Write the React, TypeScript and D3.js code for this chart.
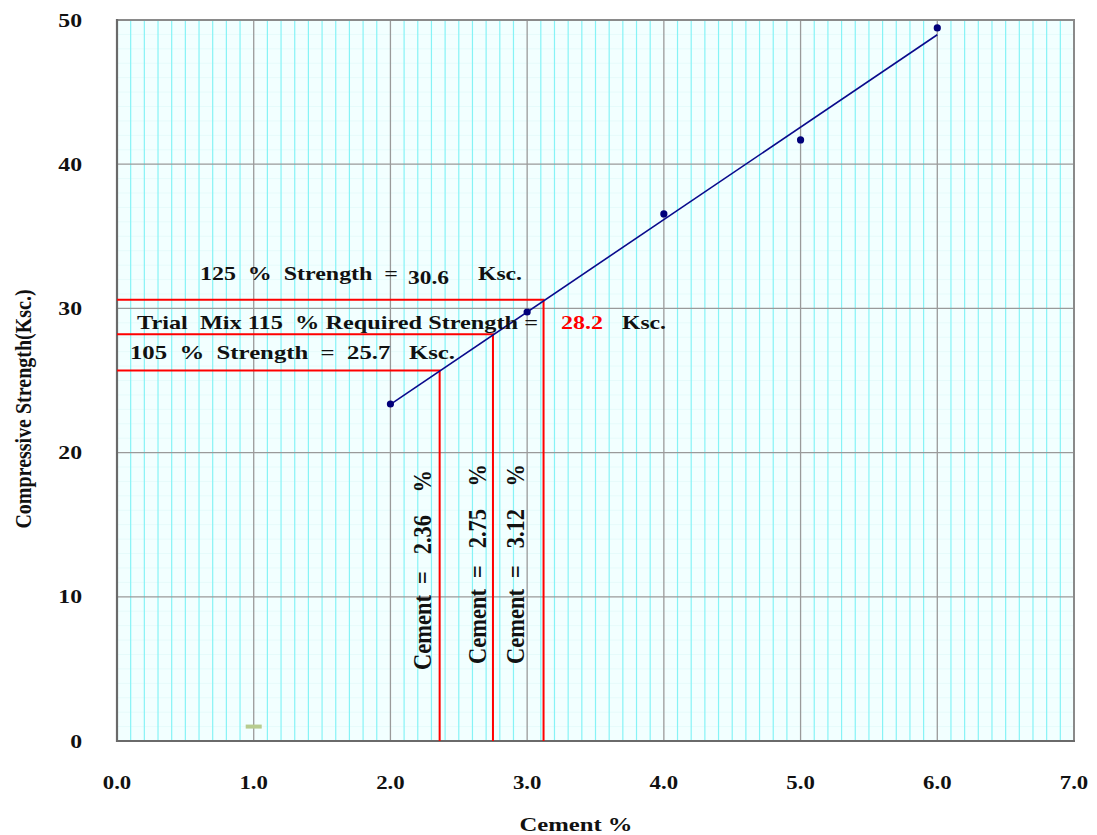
import React from "react";
import * as d3 from "d3";

const cementPct = [2, 3, 4, 5, 6];
const strength = [23.37, 29.75, 36.55, 41.68, 49.45];
const xTicks = [0, 1, 2, 3, 4, 5, 6, 7];
const yTicks = [0, 10, 20, 30, 40, 50];
const reqLabels = ["105", "115", "125"];
const reqStrength = [25.7, 28.2, 30.6];
const reqCement = [2.36, 2.75, 3.12];
const strayMarker = [{ x: 1.0, y: 1.0 }];

const W = 1097, H = 835;
const L = 117, R = 1074, T = 20, B = 741;
const FONT = "'Liberation Serif', 'Times New Roman', serif";

type TProps = { x: number; y: number; w: number; children: React.ReactNode; fill?: string };
const FitText = ({ x, y, w, children, fill }: TProps) => (
  <text x={x} y={y} textLength={w} lengthAdjust="spacingAndGlyphs" xmlSpace="preserve" fill={fill}>
    {children}
  </text>
);

export default function App() {
  const x = d3.scaleLinear().domain([0, 7]).range([L, R]);
  const y = d3.scaleLinear().domain([0, 50]).range([B, T]);

  const minorX = d3.range(1, 70).filter((i) => i % 10 !== 0).map((i) => i / 10);
  const minorY = d3.range(1, 50).filter((i) => i % 10 !== 0);

  // least squares fit
  const mx = d3.mean(cementPct)!;
  const my = d3.mean(strength)!;
  const sxy = d3.sum(cementPct.map((v, i) => (v - mx) * (strength[i] - my)));
  const sxx = d3.sum(cementPct.map((v) => (v - mx) ** 2));
  const slope = sxy / sxx;
  const icpt = my - slope * mx;
  const x0 = d3.min(cementPct)!, x1 = d3.max(cementPct)!;
  const fitLine = d3.line<number>().x((v) => x(v)).y((v) => y(icpt + slope * v));

  const rotX = [431, 486, 524];
  const rotY = [670, 664, 664];

  return (
    <svg width={W} height={H} style={{ position: "absolute", left: 0, top: 0 }} fontFamily={FONT}>
      <rect x={0} y={0} width={W} height={H} fill="#ffffff" />
      <rect x={L} y={T} width={R - L} height={B - T} fill="#f2ffff" />
      {minorY.map((v) => (
        <line key={"my" + v} x1={L} x2={R} y1={y(v)} y2={y(v)} stroke="#e6fbfb" strokeWidth={1} />
      ))}
      {minorX.map((v) => (
        <line key={"mx" + v} x1={x(v)} x2={x(v)} y1={T} y2={B} stroke="#86f3f6" strokeWidth={1.2} />
      ))}
      {xTicks.slice(1, -1).map((v) => (
        <line key={"gx" + v} x1={x(v)} x2={x(v)} y1={T} y2={B} stroke="#9a9a9a" strokeWidth={1.3} />
      ))}
      {yTicks.slice(1, -1).map((v) => (
        <line key={"gy" + v} x1={L} x2={R} y1={y(v)} y2={y(v)} stroke="#9a9a9a" strokeWidth={1.3} />
      ))}
      <rect x={L} y={T} width={R - L} height={B - T} fill="none" stroke="#8a8a8a" strokeWidth={2} />
      <line x1={L} x2={L} y1={T - 1} y2={B + 1} stroke="#6a6a6a" strokeWidth={2.2} />
      <line x1={L - 1} x2={R + 1} y1={B} y2={B} stroke="#6a6a6a" strokeWidth={2.2} />

      {strayMarker.map((d, i) => (
        <rect key={"st" + i} x={x(d.x) - 8} y={y(d.y) - 2} width={16} height={4} fill="#b7cc8f" />
      ))}

      {reqStrength.map((s, i) => (
        <path
          key={"req" + i}
          d={`M${x(0)},${y(s)}H${x(reqCement[i])}V${y(0)}`}
          fill="none"
          stroke="#ff0000"
          strokeWidth={2}
        />
      ))}

      <path d={fitLine([x0, x1]) || ""} fill="none" stroke="#0a0a8c" strokeWidth={1.6} />
      {cementPct.map((v, i) => (
        <circle key={"pt" + i} cx={x(v)} cy={y(strength[i])} r={3.6} fill="#00007a" />
      ))}

      <g fontWeight="bold" fontSize={19} fill="#111">
        <FitText x={200} y={280} w={198}>{`${reqLabels[2]}  %  Strength  =`}</FitText>
        <FitText x={408} y={284} w={41}>{reqStrength[2].toFixed(1)}</FitText>
        <FitText x={478} y={280} w={44}>Ksc.</FitText>

        <FitText x={137} y={329} w={401}>{`Trial  Mix ${reqLabels[1]}  % Required Strength =`}</FitText>
        <FitText x={561} y={329} w={42} fill="#ff0000">{reqStrength[1].toFixed(1)}</FitText>
        <FitText x={622} y={329} w={44}>Ksc.</FitText>

        <FitText x={130} y={359} w={325}>{`${reqLabels[0]}  %  Strength  =  ${reqStrength[0].toFixed(1)}   Ksc.`}</FitText>

        {reqCement.map((c, i) => (
          <g key={"rc" + i} transform={`translate(${rotX[i]},${rotY[i]}) rotate(-90) scale(1,1.3)`}>
            <FitText x={0} y={0} w={200}>{`Cement  =   ${c.toFixed(2)}    %`}</FitText>
          </g>
        ))}
      </g>

      <g fontWeight="bold" fontSize={19} fill="#111">
        {yTicks.map((v) => (
          <text
            key={"yt" + v}
            transform={`translate(82,${y(v) + 6.5}) scale(1.25,1)`}
            textAnchor="end"
          >
            {v}
          </text>
        ))}
        {xTicks.map((v) => (
          <text key={"xt" + v} transform={`translate(${x(v)},789) scale(1.2,1)`} textAnchor="middle">
            {v.toFixed(1)}
          </text>
        ))}
        <text transform="translate(576,831) scale(1.3,1)" textAnchor="middle">Cement %</text>
        <g transform="translate(31,409) rotate(-90) scale(1,1.15)">
          <text x={0} y={0} textAnchor="middle" fontSize={20}>Compressive Strength(Ksc.)</text>
        </g>
      </g>
    </svg>
  );
}
